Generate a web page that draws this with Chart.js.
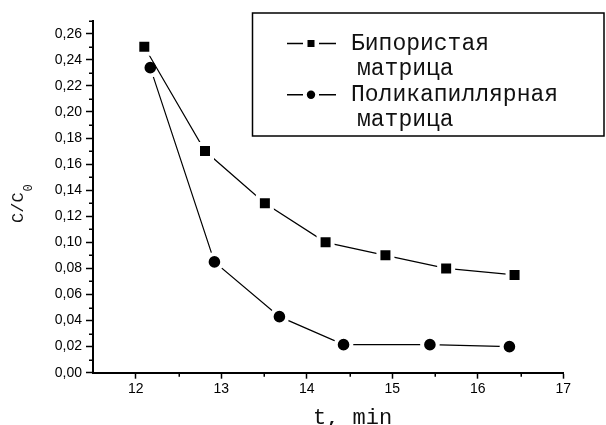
<!DOCTYPE html>
<html>
<head>
<meta charset="utf-8">
<script src="https://cdn.jsdelivr.net/npm/chart.js@4/dist/chart.umd.min.js"></script>
<style>
  html, body { margin: 0; padding: 0; background: #fff; }
  canvas { display: block; }
</style>
</head>
<body>
<canvas id="chart" width="606" height="425"></canvas>
<script>
// Relative concentration C/C0 versus time for two matrix types
const timeBiporous   = [12.10, 12.81, 13.51, 14.22, 14.92, 15.63, 16.43];
const ratioBiporous  = [0.250, 0.170, 0.130, 0.100, 0.090, 0.080, 0.075];
const timeCapillary  = [12.17, 12.92, 13.68, 14.43, 15.44, 16.37];
const ratioCapillary = [0.234, 0.085, 0.043, 0.0215, 0.0215, 0.020];

const seriesNames = [["Бипористая", "матрица"], ["Поликапиллярная", "матрица"]];
const xTickValues = [12, 13, 14, 15, 16, 17];
const yTickValues = [0, 0.02, 0.04, 0.06, 0.08, 0.10, 0.12, 0.14, 0.16, 0.18, 0.20, 0.22, 0.24, 0.26];
const xMinorValues = [12.5, 13.5, 14.5, 15.5, 16.5];
const yMinorValues = [0.01, 0.03, 0.05, 0.07, 0.09, 0.11, 0.13, 0.15, 0.17, 0.19, 0.21, 0.23, 0.25, 0.27];
const xAxisTitle = "t, min";
const yAxisTitle = ["C/C", "0"];

const MONO = '"Liberation Mono", "Courier New", monospace';
const SANS = '"Liberation Sans", Arial, sans-serif';

const toPoints = (xs, ys) => xs.map((x, i) => ({ x: x, y: ys[i] }));

// Short outward minor ticks on both axes
const minorTicks = {
  id: 'minorTicks',
  afterDraw(chart) {
    const { ctx, scales: { x, y }, chartArea } = chart;
    ctx.save();
    ctx.strokeStyle = '#000';
    ctx.lineWidth = 1.5;
    ctx.beginPath();
    yMinorValues.forEach(v => {
      const py = Math.round(y.getPixelForValue(v)) + 0.25;
      ctx.moveTo(chartArea.left, py);
      ctx.lineTo(chartArea.left - 4, py);
    });
    xMinorValues.forEach(v => {
      const px = Math.round(x.getPixelForValue(v)) + 0.25;
      ctx.moveTo(px, chartArea.bottom);
      ctx.lineTo(px, chartArea.bottom + 4);
    });
    ctx.stroke();
    ctx.restore();
  }
};

// Axis titles: rotated C/C0 with subscript, and the time label
const axisTitles = {
  id: 'axisTitles',
  afterDraw(chart) {
    const { ctx } = chart;
    ctx.save();
    ctx.fillStyle = '#111';
    ctx.textBaseline = 'alphabetic';
    ctx.textAlign = 'left';
    ctx.font = '22px ' + MONO;
    ctx.fillText(xAxisTitle, 313, 424);

    ctx.translate(23, 223);
    ctx.rotate(-Math.PI / 2);
    ctx.font = '17px ' + MONO;
    ctx.fillText(yAxisTitle[0], 0, 0);
    const w = ctx.measureText(yAxisTitle[0]).width;
    ctx.font = '12px ' + MONO;
    ctx.fillText(yAxisTitle[1], w + 1, 9);
    ctx.restore();
  }
};

// Framed legend with line + marker samples and two-line names
const boxedLegend = {
  id: 'boxedLegend',
  afterDraw(chart) {
    const { ctx } = chart;
    const box = { left: 252.5, top: 13, right: 604, bottom: 136 };
    ctx.save();
    ctx.fillStyle = '#fff';
    ctx.fillRect(box.left, box.top, box.right - box.left, box.bottom - box.top);
    ctx.strokeStyle = '#000';
    ctx.lineWidth = 1.5;
    ctx.strokeRect(box.left, box.top, box.right - box.left, box.bottom - box.top);

    const rowStep = 25.6;
    chart.data.datasets.forEach((ds, i) => {
      const cy = 43.5 + i * 2 * rowStep;
      ctx.strokeStyle = '#000';
      ctx.lineWidth = 1.5;
      ctx.beginPath();
      ctx.moveTo(287, cy); ctx.lineTo(303, cy);
      ctx.moveTo(319, cy); ctx.lineTo(336, cy);
      ctx.stroke();
      ctx.fillStyle = '#000';
      if (ds.pointStyle === 'rect') {
        ctx.fillRect(307.5, cy - 3.5, 7, 7);
      } else {
        ctx.beginPath();
        ctx.arc(311, cy, 4.2, 0, Math.PI * 2);
        ctx.fill();
      }
      ctx.fillStyle = '#111';
      ctx.font = '23px ' + MONO;
      ctx.textBaseline = 'middle';
      ctx.textAlign = 'left';
      ctx.fillText(ds.label[0], 351, cy);
      ctx.fillText(ds.label[1], 357, cy + rowStep);
    });
    ctx.restore();
  }
};

const fmt = v => v.toFixed(2).replace('.', ',');

new Chart(document.getElementById('chart'), {
  type: 'scatter',
  data: {
    datasets: [
      {
        label: seriesNames[0],
        data: toPoints(timeBiporous, ratioBiporous),
        showLine: true,
        borderColor: '#000',
        borderWidth: 1.2,
        pointStyle: 'rect',
        pointRadius: 9.9,
        pointBackgroundColor: '#000',
        pointBorderColor: '#fff',
        pointBorderWidth: 4
      },
      {
        label: seriesNames[1],
        data: toPoints(timeCapillary, ratioCapillary),
        showLine: true,
        borderColor: '#000',
        borderWidth: 1.2,
        pointStyle: 'circle',
        pointRadius: 7.8,
        pointBackgroundColor: '#000',
        pointBorderColor: '#fff',
        pointBorderWidth: 4
      }
    ]
  },
  options: {
    responsive: false,
    animation: false,
    events: [],
    layout: { padding: { top: 20.7, right: 42.7, left: 0, bottom: 0 } },
    plugins: { legend: { display: false }, tooltip: { enabled: false } },
    scales: {
      x: {
        type: 'linear',
        min: 11.5,
        max: 17,
        afterBuildTicks: s => { s.ticks = xTickValues.map(v => ({ value: v })); },
        afterFit: s => { s.height = 52.3; },
        grid: { drawOnChartArea: false, drawTicks: true, tickLength: 6, tickColor: '#000', tickWidth: 1.5 },
        border: { display: true, color: '#000', width: 2 },
        ticks: { color: '#000', font: { family: SANS, size: 14 }, padding: 2, maxRotation: 0,
                 callback: v => String(v) },
        title: { display: false }
      },
      y: {
        type: 'linear',
        min: 0,
        max: 0.27,
        afterBuildTicks: s => { s.ticks = yTickValues.map(v => ({ value: v })); },
        afterFit: s => { s.width = 93; },
        grid: { drawOnChartArea: false, drawTicks: true, tickLength: 7, tickColor: '#000', tickWidth: 1.5 },
        border: { display: true, color: '#000', width: 2 },
        ticks: { color: '#000', font: { family: SANS, size: 14 }, padding: 4,
                 callback: v => fmt(v) },
        title: { display: false }
      }
    }
  },
  plugins: [minorTicks, axisTitles, boxedLegend]
});
</script>
</body>
</html>
